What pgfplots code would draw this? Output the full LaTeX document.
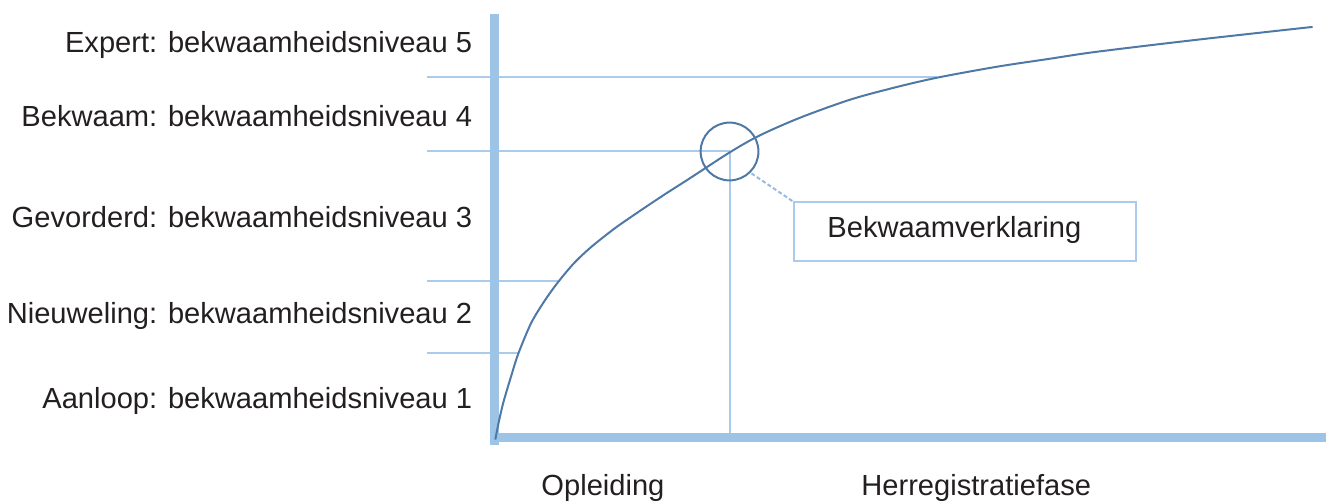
\documentclass[border=0pt]{standalone}
\usepackage{pgfplots}
\pgfplotsset{compat=1.18}
\usepackage{fontspec}
\setmainfont{Liberation Sans}
\definecolor{axisblue}{RGB}{157,195,230}
\definecolor{lineblue}{RGB}{170,203,236}
\definecolor{curveblue}{RGB}{78,120,166}
\definecolor{txt}{RGB}{35,31,32}
\tikzset{lbl/.style={font=\fontsize{29.2}{35}\selectfont, text=txt, inner sep=0pt}}
\begin{document}
\begin{tikzpicture}
\begin{axis}[
  width=1330pt, height=503pt, scale only axis,
  xmin=0, xmax=1330, ymin=0, ymax=503, y dir=reverse,
  hide axis, clip=false,
]
% bounding
\addplot[draw=none] coordinates {(0,0) (1330,503)};
% level lines
\addplot[lineblue, line width=2pt] coordinates {(428,77) (940,77)};
\addplot[lineblue, line width=2pt] coordinates {(428,152) (732,152)};
\addplot[lineblue, line width=2pt] coordinates {(428,282) (560,282)};
\addplot[lineblue, line width=2pt] coordinates {(428,354) (520,354)};
% vertical marker
\addplot[lineblue, line width=2pt] coordinates {(732,152) (732,437)};
% axes
\addplot[axisblue, line width=9pt] coordinates {(496,14) (496,446)};
\addplot[axisblue, line width=9pt] coordinates {(492,438.5) (1330,438.5)};
% curve
\addplot[curveblue, line width=2pt, smooth, tension=0.5] coordinates {
(497,441) (500,425.5) (505,404) (513,377) (520,355) (533,324) (547,301) (560,283)
(576,264) (593,248) (617,229) (643,211) (667,195) (692,179) (732,153) (762,136) (803,118)
(853,100) (897,88) (940,78) (1000,67) (1053,59) (1100,52) (1200,40) (1317,27)};
% circle
\addplot[only marks, mark=o, mark size=29pt, mark options={draw=curveblue, line width=2pt}] coordinates {(732,152)};
% connector
\addplot[lineblue!80!curveblue, line width=2pt, dash pattern=on 4pt off 2.5pt] coordinates {(754,174) (797,203)};
% box
\addplot[lineblue, line width=2pt, fill=white] coordinates {(797,203) (1140,203) (1140,262) (797,262)} -- cycle;
\node[lbl, anchor=base west] at (axis cs:830,238) {Bekwaamverklaring};
% level labels
\node[lbl, anchor=base east] at (axis cs:474,53) {Expert: bekwaamheidsniveau 5};
\node[lbl, anchor=base east] at (axis cs:474,127) {Bekwaam: bekwaamheidsniveau 4};
\node[lbl, anchor=base east] at (axis cs:474,228) {Gevorderd: bekwaamheidsniveau 3};
\node[lbl, anchor=base east] at (axis cs:474,325) {Nieuweling: bekwaamheidsniveau 2};
\node[lbl, anchor=base east] at (axis cs:474,410) {Aanloop: bekwaamheidsniveau 1};
% phase labels
\node[lbl, anchor=base] at (axis cs:605,497) {Opleiding};
\node[lbl, anchor=base] at (axis cs:979.5,497) {Herregistratiefase};
\end{axis}
\end{tikzpicture}
\end{document}
